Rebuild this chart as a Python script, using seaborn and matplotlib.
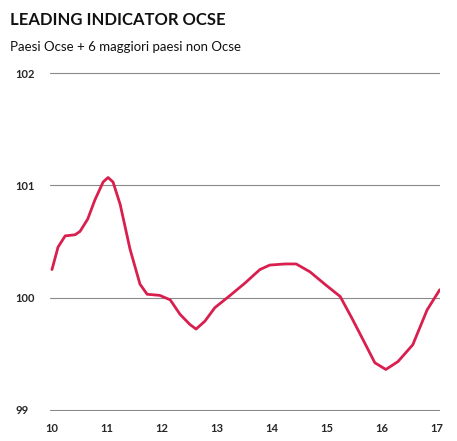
import numpy as np
import pandas as pd
import matplotlib
matplotlib.use("Agg")
import matplotlib.pyplot as plt
import seaborn as sns

# valori (anno decimale -> indice)
anni = [10.00, 10.11, 10.24, 10.42, 10.51, 10.65, 10.78, 10.93, 11.02, 11.11,
        11.24, 11.42, 11.60, 11.73, 11.96, 12.15, 12.33, 12.51, 12.62, 12.78,
        12.96, 13.24, 13.51, 13.78, 13.96, 14.24, 14.44, 14.69, 14.96, 15.24,
        15.45, 15.64, 15.87, 16.07, 16.29, 16.56, 16.82, 17.05]
indice = [100.25, 100.45, 100.55, 100.56, 100.59, 100.70, 100.87, 101.03, 101.07, 101.03,
          100.83, 100.43, 100.12, 100.03, 100.02, 99.98, 99.85, 99.76, 99.72, 99.79,
          99.91, 100.02, 100.13, 100.25, 100.29, 100.30, 100.30, 100.23, 100.12, 100.01,
          99.82, 99.64, 99.42, 99.36, 99.43, 99.58, 99.89, 100.07]
x_ticks = [10, 11, 12, 13, 14, 15, 16, 17]
y_ticks = [99, 100, 101, 102]

df = pd.DataFrame({"anno": anni, "indice": indice})

sns.set_style("white")
plt.rcParams['font.family'] = ['Lato', 'DejaVu Sans']

fig = plt.figure(figsize=(4.57, 4.41), dpi=100)
ax = fig.add_axes([50 / 457, 1 - 411 / 441, 390 / 457, 339 / 441])

sns.lineplot(data=df, x="anno", y="indice", ax=ax, color="#d81f4e", linewidth=2.0)

ax.set_xlim(9.964, 17.055)
ax.set_ylim(98.99, 102.01)
ax.set_xticks(x_ticks)
ax.set_xticklabels([str(v) for v in x_ticks], fontsize=8, fontweight="bold")
ax.set_yticks(y_ticks)
ax.set_yticklabels([str(v) for v in y_ticks], fontsize=8, fontweight="bold", ha="left")
ax.tick_params(axis="y", length=0, pad=25)
ax.tick_params(axis="x", length=0, pad=9)
for v in y_ticks:
    ax.axhline(v, color="#8a8a8a", linewidth=0.8, zorder=0)
ax.set_xlabel("")
ax.set_ylabel("")
sns.despine(ax=ax, left=True, bottom=True)

fig.text(10 / 457, 1 - 20 / 441, "LEADING INDICATOR OCSE", fontsize=12,
         fontweight="bold", va="center", color="#111111")
fig.text(10 / 457, 1 - 47 / 441, "Paesi Ocse + 6 maggiori paesi non Ocse",
         fontsize=9.5, va="center", color="#111111")

fig.savefig("out.png", dpi=100)
